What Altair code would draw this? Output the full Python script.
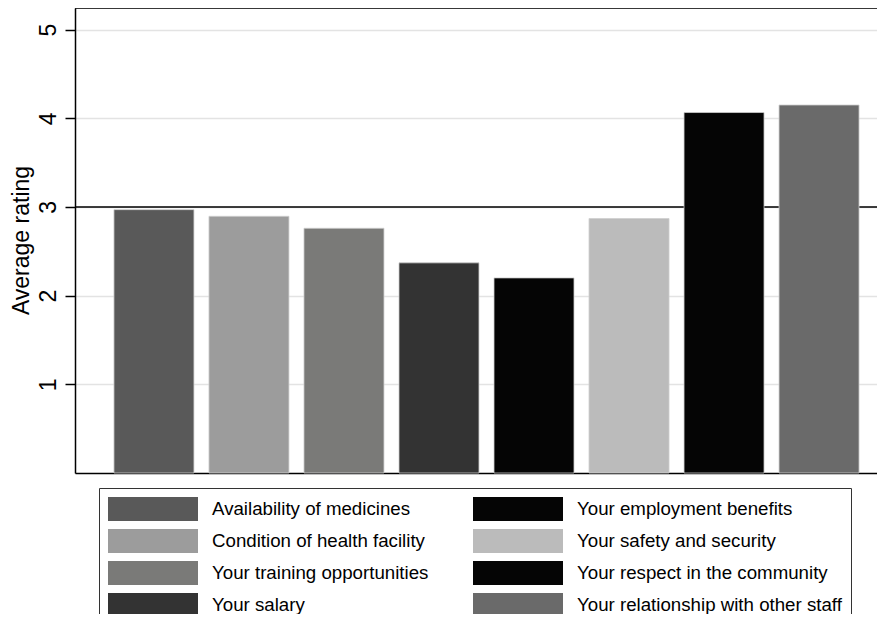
import altair as alt
import pandas as pd

# ---- data ----
items = [
    "Availability of medicines",
    "Condition of health facility",
    "Your training opportunities",
    "Your salary",
    "Your employment benefits",
    "Your safety and security",
    "Your respect in the community",
    "Your relationship with other staff",
]
ratings = [2.97, 2.895, 2.76, 2.37, 2.20, 2.87, 4.065, 4.15]
colors = ["#595959", "#9c9c9c", "#7a7a78", "#333333",
          "#050505", "#bbbbbb", "#050505", "#6a6a6a"]
y_ticks = [1, 2, 3, 4, 5]
ref_value = 3
y_max = 5.244

df = pd.DataFrame({"item": items, "rating": ratings})

FONT = "Liberation Sans"

x_enc = alt.X(
    "item:N", sort=items,
    scale=alt.Scale(range=[0, 823], paddingInner=0.158, paddingOuter=0.41, align=0.5),
    axis=alt.Axis(title=None, labels=False, ticks=False, grid=False,
                  domain=True, domainColor="black", domainWidth=1.5),
)
y_enc = alt.Y(
    "rating:Q",
    scale=alt.Scale(domain=[0, y_max], nice=False, zero=True),
    axis=alt.Axis(
        values=y_ticks, format="d", title="Average rating",
        titleFontSize=23, titleFont=FONT, titleFontWeight="normal", titleColor="black",
        titleAngle=270, titleX=-47, titleY=232, titleAlign="center",
        titleBaseline="alphabetic",
        labelFontSize=23, labelFont=FONT, labelColor="black",
        labelAngle=270, labelAlign="center", labelBaseline="alphabetic",
        labelPadding=10, tickSize=10, tickColor="black", tickWidth=1.5,
        domainColor="black", domainWidth=1.5,
        grid=True, gridColor="#e3e3e3", gridWidth=1.5,
    ),
)

legend = alt.Legend(
    title=None, orient="none", legendX=24, legendY=480,
    columns=2, columnPadding=44, rowPadding=8, padding=9,
    symbolType="M-1,-1L6.5,-1L6.5,1L-1,1Z", symbolSize=576,
    symbolStrokeWidth=0, symbolOpacity=1,
    labelFontSize=18.7, labelFont=FONT, labelColor="black",
    labelOffset=80, labelLimit=400,
    strokeColor="#333333", fillColor="white",
)

bars = alt.Chart(df).mark_bar(stroke="#cfcfcf", strokeWidth=0.8).encode(
    x=x_enc,
    y=y_enc,
    color=alt.Color("item:N", scale=alt.Scale(domain=items, range=colors),
                    legend=legend),
)

ref_rule = alt.Chart(pd.DataFrame({"ref": [ref_value]})).mark_rule(
    color="black", strokeWidth=1.6
).encode(y=alt.datum(ref_value))

top_rule = alt.Chart(pd.DataFrame({"ref": [ref_value]})).mark_rule(
    color="black", strokeWidth=1.5
).encode(y=alt.value(0))

chart = alt.layer(ref_rule, bars, top_rule).properties(
    width=802, height=465,
    autosize=alt.AutoSizeParams(type="none"),
    padding={"left": 67, "top": 0, "right": 0, "bottom": 141},
).configure_view(stroke="transparent").configure(font=FONT)

chart.save("out.html", embed_options={"renderer": "svg", "actions": False})
